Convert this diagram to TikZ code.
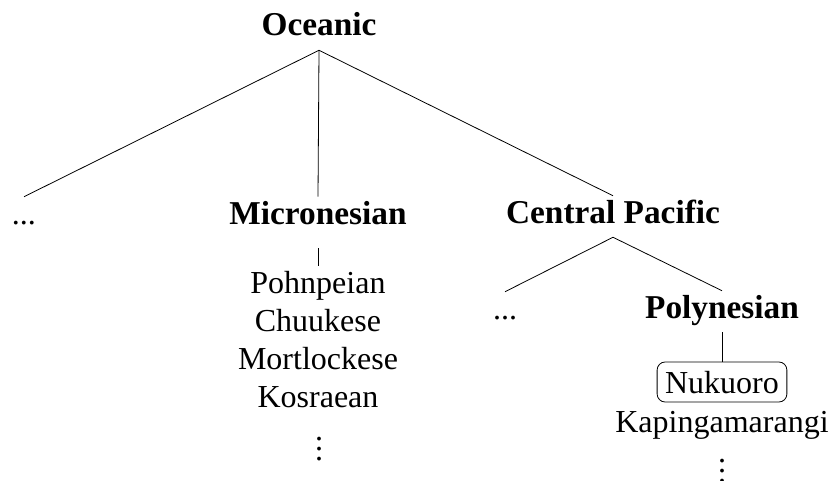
\documentclass[tikz,border=0pt]{standalone}
\usepackage{fontspec}
\setmainfont{Liberation Serif}
\newcommand\myvdots{\vbox{\baselineskip=7.5pt\lineskiplimit=-20pt\hbox{.}\hbox{.}\hbox{.}}}
\begin{document}
\begin{tikzpicture}[x=0.75pt,y=-0.75pt,
  lbl/.style={inner sep=0pt,anchor=base,text height=20.25pt,text depth=10.5pt,font=\fontsize{24}{28}\selectfont},
  cat/.style={lbl,font=\fontsize{25}{29}\selectfont\bfseries},
  hl/.style={lbl,draw,line width=0.6pt,rounded corners=6pt,inner xsep=6pt,inner ysep=0pt,text height=23.25pt,text depth=6.75pt},
  vd/.style={inner sep=0pt,anchor=base,font=\fontsize{24}{28}\selectfont},
  edge/.style={line width=0.6pt}]
\useasboundingbox (0,0) rectangle (831,481);
\node[cat] (oc) at (319,36) {Oceanic};
\node[lbl] (d1) at (24,224) {...};
\node[cat] (mic) at (318,224) {Micronesian};
\node[cat] (cp) at (613,223) {Central Pacific};
\node[lbl] (pohn) at (318,293) {Pohnpeian};
\node[lbl] (chuu) at (318,331) {Chuukese};
\node[lbl] (mort) at (318,369) {Mortlockese};
\node[lbl] (kos) at (318,407) {Kosraean};
\node[vd] (v1) at (319,460) {\myvdots};
\node[lbl] (d2) at (505,319) {...};
\node[cat] (pol) at (722,318) {Polynesian};
\node[hl] (nuk) at (722,393) {Nukuoro};
\node[lbl] (kap) at (722,432) {Kapingamarangi};
\node[vd] (v2) at (722,482) {\myvdots};
\draw[edge] (oc.south) -- (d1.north);
\draw[edge] (oc.south) -- (mic.north);
\draw[edge] (oc.south) -- (cp.north);
\draw[edge] ([yshift=-7.5pt]mic.south) -- (pohn.north);
\draw[edge] (cp.south) -- (d2.north);
\draw[edge] (cp.south) -- (pol.north);
\draw[edge] (pol.south) -- (nuk.north);
\end{tikzpicture}
\end{document}
